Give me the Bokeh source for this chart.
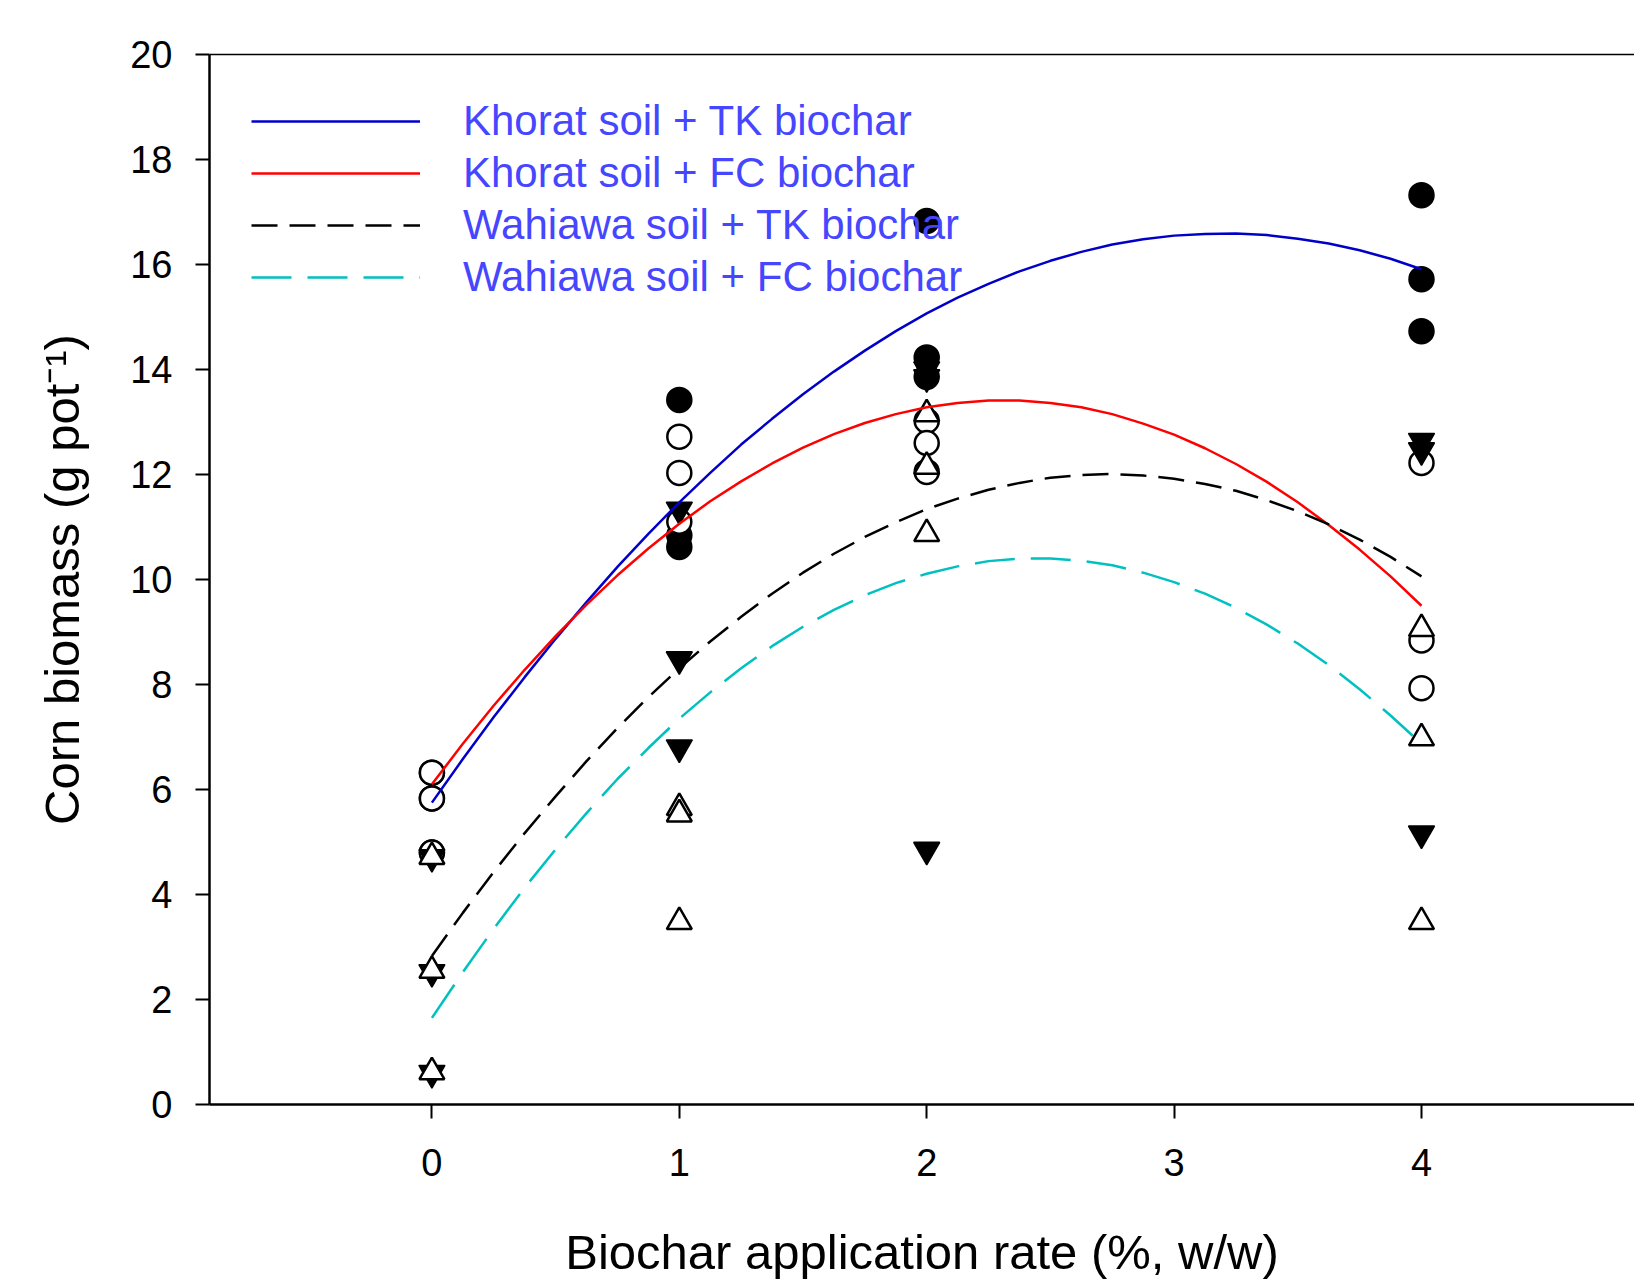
from bokeh.plotting import figure
from bokeh.models import Range1d, FixedTicker, LinearAxis, Legend, LegendItem
from bokeh.embed import file_html
from bokeh.resources import INLINE

# Observed replicates (biochar rate %, corn biomass g/pot)
rates = [0, 0, 0, 1, 1, 1, 2, 2, 2, 4, 4, 4]
khorat_tk = [6.32, 5.83, 4.80, 13.42, 10.84, 10.62, 16.83, 14.23, 13.86, 17.32, 15.72, 14.73]
khorat_fc = [6.32, 5.83, 4.80, 12.72, 12.03, 11.10, 13.02, 12.60, 12.05, 12.22, 8.84, 7.93]
wahiawa_tk = [4.71, 2.52, 0.60, 11.33, 8.48, 6.80, 13.85, 14.00, 4.85, 12.64, 12.46, 5.16]
wahiawa_fc = [4.72, 2.55, 0.62, 5.65, 5.53, 3.48, 13.15, 12.15, 10.87, 9.06, 6.98, 3.48]

# Fitted curves
fit_x = [0, 0.125, 0.25, 0.375, 0.5, 0.625, 0.75, 0.875, 1, 1.125, 1.25, 1.375, 1.5,
         1.625, 1.75, 1.875, 2, 2.125, 2.25, 2.375, 2.5, 2.625, 2.75, 2.875, 3,
         3.125, 3.25, 3.375, 3.5, 3.625, 3.75, 3.875, 4]
fit_khorat_tk = [5.75, 6.58, 7.38, 8.14, 8.87, 9.57, 10.24, 10.87, 11.47, 12.03, 12.57,
                 13.06, 13.53, 13.96, 14.36, 14.73, 15.07, 15.37, 15.63, 15.87, 16.07,
                 16.24, 16.38, 16.48, 16.55, 16.58, 16.59, 16.56, 16.49, 16.40, 16.27,
                 16.11, 15.91]
fit_khorat_fc = [6.10, 6.87, 7.60, 8.28, 8.92, 9.52, 10.08, 10.59, 11.06, 11.49, 11.87,
                 12.21, 12.51, 12.77, 12.98, 13.15, 13.28, 13.36, 13.41, 13.41, 13.36,
                 13.28, 13.15, 12.97, 12.76, 12.50, 12.20, 11.86, 11.47, 11.04, 10.57,
                 10.06, 9.50]
fit_wahiawa_tk = [2.83, 3.65, 4.43, 5.17, 5.87, 6.54, 7.17, 7.76, 8.31, 8.82, 9.29,
                  9.73, 10.13, 10.49, 10.81, 11.09, 11.34, 11.54, 11.71, 11.84, 11.94,
                  11.99, 12.01, 11.98, 11.92, 11.82, 11.69, 11.51, 11.30, 11.05, 10.76,
                  10.43, 10.06]
fit_wahiawa_fc = [1.65, 2.52, 3.35, 4.13, 4.86, 5.55, 6.20, 6.79, 7.35, 7.85, 8.31,
                  8.73, 9.10, 9.42, 9.70, 9.93, 10.11, 10.25, 10.35, 10.40, 10.40,
                  10.36, 10.27, 10.13, 9.95, 9.73, 9.46, 9.14, 8.78, 8.37, 7.91,
                  7.41, 6.87]

labels = ["Khorat soil + TK biochar", "Khorat soil + FC biochar",
          "Wahiawa soil + TK biochar", "Wahiawa soil + FC biochar"]
x_ticks = [0, 1, 2, 3, 4]
y_ticks = [0, 2, 4, 6, 8, 10, 12, 14, 16, 18, 20]

FONT = "Liberation Sans"

p = figure(width=1634, height=1281, x_range=Range1d(-0.899, 4.861), y_range=Range1d(0, 20),
           output_backend="svg", toolbar_location=None,
           min_border_left=209, min_border_right=0, min_border_top=54, min_border_bottom=175)
p.outline_line_color = None
p.grid.visible = False
p.background_fill_color = "white"

# axes
for ax in (p.xaxis[0], p.yaxis[0]):
    ax.axis_line_width = 2.5
    ax.major_tick_line_width = 2
    ax.major_tick_out = 14
    ax.major_tick_in = 0
    ax.minor_tick_line_color = None
    ax.major_label_text_font = FONT
    ax.major_label_text_font_size = "38px"
    ax.major_label_text_color = "black"
    ax.axis_label_text_font = FONT
    ax.axis_label_text_font_size = "49px"
    ax.axis_label_text_font_style = "normal"
    ax.axis_label_text_color = "black"

p.xaxis.ticker = FixedTicker(ticks=x_ticks)
p.yaxis.ticker = FixedTicker(ticks=y_ticks)
p.xaxis.major_label_standoff = 30
p.yaxis.major_label_standoff = 23
p.xaxis.axis_label = "Biochar application rate (%, w/w)"
p.yaxis.axis_label = "Corn biomass (g pot\u207b\u00b9)"
p.xaxis.axis_label_standoff = 46
p.yaxis.axis_label_standoff = 38

top_axis = LinearAxis(ticker=FixedTicker(ticks=[]), axis_line_width=1.5,
                      major_tick_line_color=None, minor_tick_line_color=None,
                      major_label_text_font_size="0px")
p.add_layout(top_axis, "above")

# markers (draw order: filled circles, open circles, filled inverted triangles, open triangles)
p.scatter(rates, khorat_tk, marker="circle", size=25, fill_color="black",
          line_color="black", line_width=1.5)
p.scatter(rates, khorat_fc, marker="circle", size=24, fill_color="white",
          line_color="black", line_width=2.5)
p.scatter(rates, wahiawa_tk, marker="inverted_triangle", size=26, fill_color="black",
          line_color="black", line_width=1.5)
p.scatter(rates, wahiawa_fc, marker="triangle", size=25, fill_color="white",
          line_color="black", line_width=2.5)

# fitted curves
r1 = p.line(fit_x, fit_khorat_tk, line_color="#0000c8", line_width=2.5)
r2 = p.line(fit_x, fit_khorat_fc, line_color="#ff0000", line_width=2.5)
r3 = p.line(fit_x, fit_wahiawa_tk, line_color="black", line_width=2.5, line_dash="26 12")
r4 = p.line(fit_x, fit_wahiawa_fc, line_color="#00c0c0", line_width=2.5, line_dash="40 16")

legend = Legend(items=[LegendItem(label=labels[0], renderers=[r1]),
                       LegendItem(label=labels[1], renderers=[r2]),
                       LegendItem(label=labels[2], renderers=[r3]),
                       LegendItem(label=labels[3], renderers=[r4])],
                location="top_left", margin=42, padding=0, spacing=2,
                glyph_width=169, glyph_height=50, label_height=50, label_standoff=43,
                label_text_font=FONT, label_text_font_size="42px",
                label_text_color="#4646ff", background_fill_alpha=0,
                border_line_color=None)
p.add_layout(legend)

open("out.html", "w").write(file_html(p, INLINE))
